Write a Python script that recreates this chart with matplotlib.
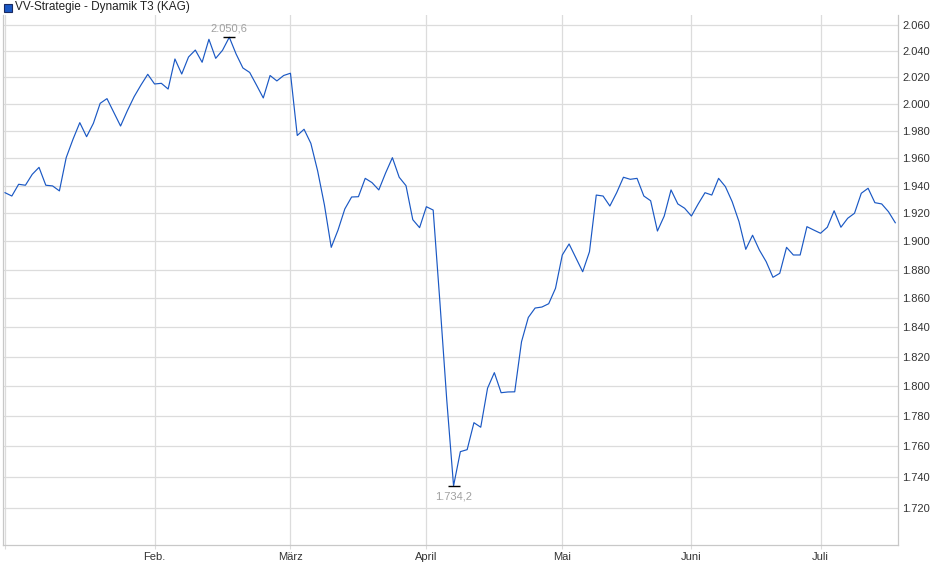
import matplotlib
matplotlib.use('Agg')
import matplotlib.pyplot as plt
from matplotlib.ticker import FixedLocator, FuncFormatter, NullLocator
from matplotlib.patches import Rectangle
import numpy as np

plt.rcParams['font.family'] = ['Liberation Sans', 'DejaVu Sans']

# ── Data (one value per trading day) ──
series_name = 'VV-Strategie - Dynamik T3 (KAG)'
prices = [
    1934.9, 1932.5, 1941.0, 1940.3, 1948.2, 1953.3, 1940.3, 1939.8, 1936.2, 1960.4,
    1973.9, 1986.2, 1975.8, 1985.7, 2000.6, 2004.1, 1993.9, 1983.7, 1995.1, 2005.6,
    2014.3, 2022.4, 2015.1, 2015.6, 2011.3, 2034.0, 2022.6, 2035.5, 2040.8, 2031.5,
    2049.0, 2034.5, 2040.6, 2050.6, 2037.8, 2027.2, 2023.8, 2014.3, 2004.6, 2021.5,
    2017.4, 2021.5, 2023.2, 1976.7, 1981.3, 1970.9, 1950.7, 1926.0, 1895.8, 1908.1,
    1923.2, 1931.8, 1932.0, 1945.3, 1942.2, 1936.9, 1949.2, 1960.4, 1946.1, 1940.0,
    1915.5, 1909.8, 1924.8, 1922.4, 1856.8, 1790.7, 1734.2, 1756.5, 1757.8, 1775.6,
    1772.6, 1798.6, 1809.1, 1795.6, 1796.1, 1796.2, 1830.1, 1846.8, 1853.3, 1854.0,
    1856.3, 1867.0, 1890.4, 1898.2, 1888.3, 1878.6, 1892.7, 1933.2, 1932.5, 1925.3,
    1934.9, 1946.1, 1944.6, 1945.3, 1932.5, 1929.1, 1907.4, 1918.1, 1936.9, 1926.8,
    1923.7, 1918.1, 1926.8, 1934.9, 1933.2, 1945.3, 1939.3, 1928.4, 1914.1, 1894.4,
    1904.4, 1893.9, 1885.7, 1874.7, 1877.5, 1895.8, 1890.4, 1890.4, 1910.5, 1908.1,
    1905.8, 1910.1, 1921.9, 1910.1, 1916.5, 1920.1, 1934.5, 1938.1, 1927.7, 1926.8,
    1921.2, 1913.3,
]
month_pos = [0, 22, 42, 62, 82, 101, 120]
month_labels = ['', 'Feb.', 'März', 'April', 'Mai', 'Juni', 'Juli']
y_ticks = list(range(1720, 2061, 20))

LINE = '#1a58c4'
GRID = '#dcdcdc'
TXT = '#333333'
ANN = '#a0a0a0'


def de_num(v, dec=0):
    s = f"{v:,.{dec}f}"
    return s.replace(',', 'X').replace('.', ',').replace('X', '.')


x = np.arange(len(prices))
y = np.array(prices)

fig = plt.figure(figsize=(9.4, 5.79), dpi=100)
ax = fig.add_axes([3 / 940, 34 / 579, 895 / 940, 530 / 579])

ax.plot(x, y, color=LINE, lw=0.85, zorder=3)

ax.set_yscale('log')
ax.set_ylim(1696.3, 2067.7)
ax.set_xlim(-0.3, 131.4)

ax.yaxis.set_major_locator(FixedLocator(y_ticks))
ax.yaxis.set_minor_locator(NullLocator())
ax.yaxis.set_major_formatter(FuncFormatter(lambda v, p: de_num(v)))
ax.yaxis.tick_right()
ax.tick_params(axis='y', length=0, pad=3, labelsize=8, labelcolor=TXT)

ax.set_xticks(month_pos)
ax.set_xticklabels(month_labels)
ax.tick_params(axis='x', length=3, color=GRID, pad=2, labelsize=8, labelcolor=TXT)

ax.grid(True, color=GRID, lw=0.9, zorder=0)
ax.set_axisbelow(True)

ax.spines['top'].set_visible(False)
for side in ['left', 'right', 'bottom']:
    ax.spines[side].set_color('#c8c8c8')
    ax.spines[side].set_linewidth(0.9)

# ── High / low markers ──
i_max = int(np.argmax(y))
i_min = int(np.argmin(y))
ax.plot([i_max, i_min], [y[i_max], y[i_min]], ls='none', marker='_',
        markersize=9, mew=1.0, color='black', zorder=4)
ax.annotate(de_num(y[i_max], 1), (i_max, y[i_max]), xytext=(0, 6),
            textcoords='offset points', ha='center', va='center',
            fontsize=8, color=ANN)
ax.annotate(de_num(y[i_min], 1), (i_min, y[i_min]), xytext=(0, -7.5),
            textcoords='offset points', ha='center', va='center',
            fontsize=8, color=ANN)

# ── Legend ──
fig.patches.append(Rectangle((4 / 940, 1 - 11.5 / 579), 8 / 940, 8 / 579,
                             transform=fig.transFigure, facecolor='#1a58c4',
                             edgecolor='#1a2a60', lw=0.8))
fig.text(15 / 940, 1 - 7 / 579, series_name, ha='left', va='center',
         fontsize=8.5, color='#222222')

fig.savefig('out.png', dpi=100, facecolor='white')
